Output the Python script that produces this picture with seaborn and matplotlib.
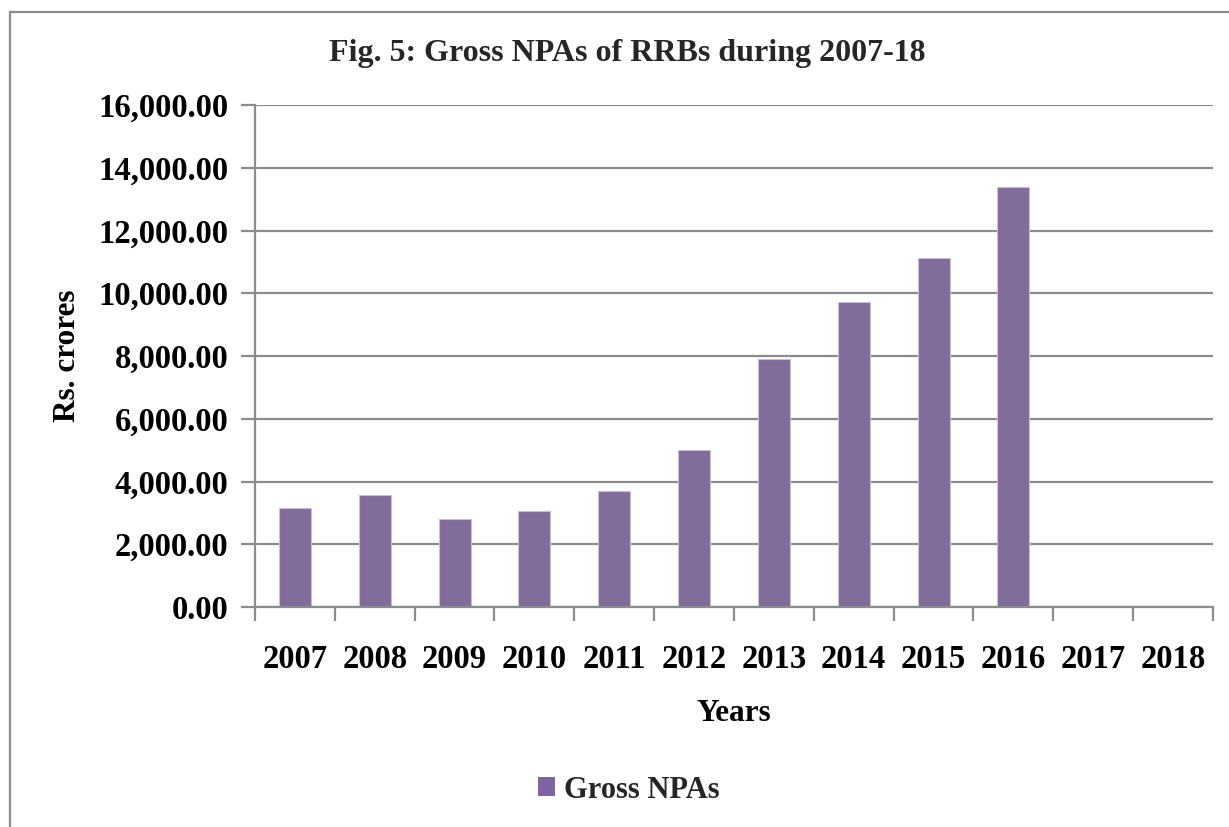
import matplotlib
matplotlib.use("Agg")
import matplotlib.pyplot as plt
from matplotlib.patches import Rectangle
from matplotlib.ticker import FuncFormatter, FixedLocator
import seaborn as sns
import pandas as pd
import numpy as np

# Gross NPAs of Regional Rural Banks (Rs. crores); no figures for 2017 and 2018
years = ["2007", "2008", "2009", "2010", "2011", "2012",
         "2013", "2014", "2015", "2016", "2017", "2018"]
gross_npas = [3150, 3560, 2790, 3070, 3710, 4990,
              7900, 9710, 11120, 13390, np.nan, np.nan]
series_name = "Gross NPAs"

df = pd.DataFrame({"Year": years, "Value": gross_npas, "Series": series_name})

sns.set_theme(style="white")
plt.rcParams["font.family"] = ["Liberation Serif", "DejaVu Serif"]
plt.rcParams["font.weight"] = "bold"

BAR = "#8064A2"
GRID = "#8c8c8c"
FS = 23.5

fig = plt.figure(figsize=(12.29, 8.27), dpi=100)
ax = fig.add_axes([255 / 1229, 1 - 607 / 827, 958 / 1229, 502 / 827])

sns.barplot(data=df, x="Year", y="Value", hue="Series", order=years,
            palette=[BAR], width=0.4, edgecolor="#c9bcdc", linewidth=0.8,
            ax=ax, legend=False, zorder=3)

ax.set_ylim(0, 16000)
ax.set_xlim(-0.5, len(years) - 0.5)
ax.set_yticks(np.arange(0, 16001, 2000))
ax.yaxis.set_major_formatter(FuncFormatter(lambda v, p: f"{v:,.2f}"))
ax.yaxis.grid(True, color=GRID, linewidth=1.6, zorder=0)
ax.set_axisbelow(True)

# Category labels at centres, tick marks on category boundaries
ax.set_xticks(range(len(years)))
ax.set_xticklabels(years)
ax.xaxis.set_minor_locator(FixedLocator(np.arange(-0.5, len(years), 1.0)))
ax.tick_params(axis="x", which="major", length=0, pad=27, labelsize=FS)
ax.tick_params(axis="x", which="minor", length=10, width=1.6, color=GRID,
               direction="out", bottom=True)
ax.tick_params(axis="y", which="major", length=10, width=1.6, color=GRID,
               direction="out", left=True, pad=9, labelsize=FS)
for lab in ax.get_xticklabels() + ax.get_yticklabels():
    lab.set_fontweight("bold")
    lab.set_color("black")

for side in ("top", "right"):
    ax.spines[side].set_visible(False)
for side in ("left", "bottom"):
    ax.spines[side].set_color(GRID)
    ax.spines[side].set_linewidth(1.6)
    ax.spines[side].set_zorder(4)

ax.set_xlabel("Years", fontsize=22.5, fontweight="bold", labelpad=17, color="black")
ax.set_ylabel("Rs. crores", fontsize=22.5, fontweight="bold", labelpad=12, color="black")

fig.text(627 / 1229, 1 - 54 / 827, "Fig. 5: Gross NPAs of RRBs during 2007-18",
         ha="center", va="center", fontsize=23, fontweight="bold")

# Legend below the chart
handle = Rectangle((0, 0), 1, 1, facecolor=BAR, edgecolor="none")
fig.legend([handle], [series_name], loc="center", bbox_to_anchor=(629 / 1229, 1 - 790 / 827),
           frameon=False, prop={"size": 22, "weight": "bold"},
           handlelength=0.55, handleheight=0.55, handletextpad=0.3)

# Chart frame
fig.add_artist(Rectangle((10 / 1229, -0.05), 1.2, 1 - 12 / 827 + 0.05,
                         transform=fig.transFigure, fill=False,
                         edgecolor="#8c8c8c", linewidth=1.6))

fig.savefig("out.png", dpi=100, facecolor="white")
